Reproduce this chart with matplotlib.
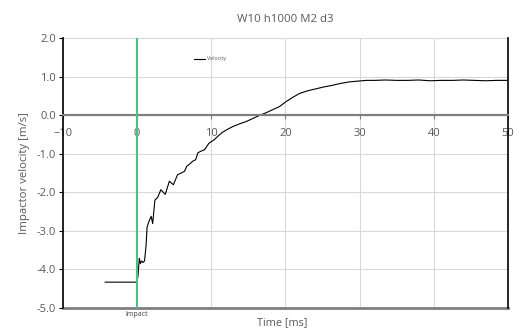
import matplotlib.pyplot as plt
import matplotlib.ticker as mticker

# velocity trace (time in ms, velocity in m/s)
time_ms = [-4.3, -3.0, -2.0, -1.0, -0.1, 0.1, 0.3, 0.45, 0.6, 0.8, 1.0, 1.2, 1.35,
           1.6, 1.9, 2.1, 2.4, 2.55, 2.8, 3.2, 3.8, 4.35, 4.9, 5.45, 5.9,
           6.4, 6.7, 7.1, 7.5, 7.9, 8.2, 8.6, 9.1, 9.7, 10.4, 10.9, 11.5, 12.2,
           12.9, 13.8, 14.7, 15.6, 16.5, 17.4, 18.3, 19.2, 20.1, 21.0, 21.9,
           23.0, 24.1, 25.2, 26.3, 27.4, 28.6, 29.7, 30.9, 32.0, 33.5, 35.0,
           36.5, 38.0, 39.5, 41.0, 42.5, 44.0, 45.5, 47.0, 48.5, 50.0]
velocity = [-4.33, -4.33, -4.33, -4.33, -4.33, -4.2, -3.71, -3.85, -3.78, -3.82,
            -3.78, -3.4, -2.9, -2.75, -2.62, -2.81, -2.2, -2.17, -2.12, -1.93,
            -2.05, -1.71, -1.80, -1.54, -1.50, -1.45, -1.32, -1.26, -1.19, -1.15,
            -0.97, -0.93, -0.89, -0.72, -0.63, -0.54, -0.44, -0.36,
            -0.29, -0.22, -0.16, -0.08, 0.0, 0.07, 0.15, 0.23, 0.36, 0.47, 0.57,
            0.64, 0.69, 0.74, 0.78, 0.83, 0.87, 0.89, 0.91, 0.91, 0.92, 0.91,
            0.91, 0.92, 0.90, 0.91, 0.91, 0.92, 0.91, 0.90, 0.91, 0.91]

x_ticks = [-10, 0, 10, 20, 30, 40, 50]
y_ticks = [2.0, 1.0, 0.0, -1.0, -2.0, -3.0, -4.0, -5.0]
impact_time = 0

plt.rcParams['font.family'] = ['Open Sans', 'DejaVu Sans']
grey = '#595959'

fig = plt.figure(figsize=(5.29, 3.34), dpi=100)
ax = fig.add_axes([0.119, 0.078, 0.841, 0.807])

ax.plot(time_ms, velocity, color='black', linewidth=0.8, label='Velocity')
ax.axvline(impact_time, color='#4cc08a', linewidth=1.5, zorder=3)
ax.axhline(0, color='#7f7f7f', linewidth=1.5, zorder=2)

ax.set_xlim(-10, 50)
ax.set_ylim(-5, 2)
ax.set_xticks(x_ticks)
ax.set_yticks(y_ticks)
ax.yaxis.set_major_formatter(mticker.FormatStrFormatter('%.1f'))
ax.grid(color='#d9d9d9', linewidth=0.8)
ax.set_axisbelow(True)

# x tick labels sit on the zero line
ax.spines['bottom'].set_position(('data', 0))
ax.spines['bottom'].set_color('#7f7f7f')
ax.spines['bottom'].set_linewidth(1.5)
ax.axhline(-5, color='#7f7f7f', linewidth=2.0, clip_on=False)
ax.spines['top'].set_visible(False)
ax.spines['left'].set_linewidth(1.2)
ax.spines['right'].set_linewidth(1.2)
ax.tick_params(axis='x', direction='out', length=3, color='#7f7f7f',
               labelsize=8, labelcolor=grey, pad=6)
ax.tick_params(axis='y', direction='out', length=3, labelsize=8,
               labelcolor=grey, pad=2)

ax.set_title('W10 h1000 M2 d3', fontsize=8.2, color=grey, pad=12)
ax.set_ylabel('Impactor velocity [m/s]', fontsize=8.2, color=grey, labelpad=5)
fig.text(0.533, 0.033, 'Time [ms]', fontsize=7.8, color=grey, ha='center', va='center')
ax.text(impact_time, -5.18, 'Impact', fontsize=5, color='#404040',
        ha='center', va='center', clip_on=False)

ax.legend(loc='center left', bbox_to_anchor=(0.285, 0.924), frameon=False,
          fontsize=3.8, handlelength=2.0, handletextpad=0.3, labelcolor=grey)

fig.savefig('out.png', dpi=100)
